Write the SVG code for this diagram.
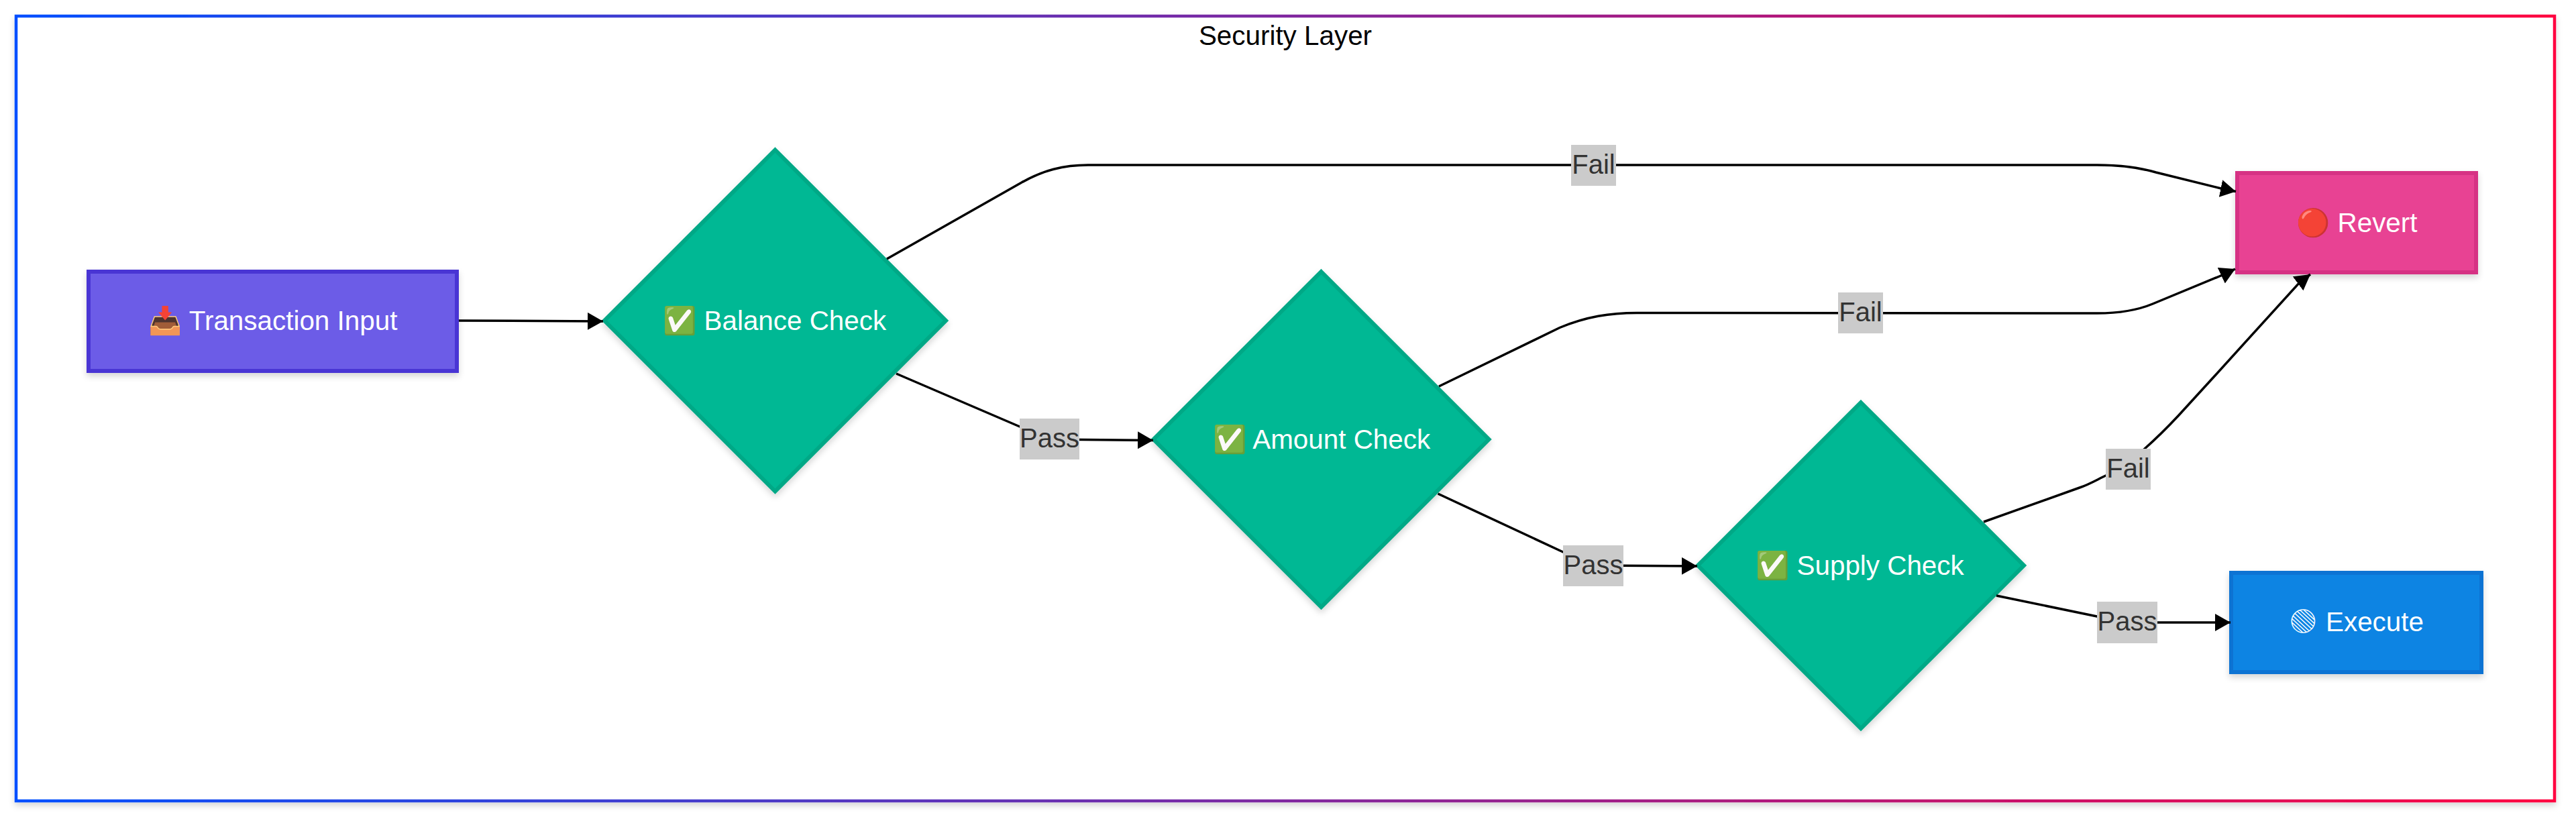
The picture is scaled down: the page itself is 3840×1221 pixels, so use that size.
<svg xmlns="http://www.w3.org/2000/svg" width="3840" height="1221" viewBox="0 0 3840 1221">
<style>
text{font-family:"Liberation Sans","Noto Color Emoji",sans-serif;font-size:40.400px}
.c{text-anchor:middle}
.n text{fill:#fff}
.n rect,.n polygon{stroke-width:6;filter:url(#sh)}
.g polygon{fill:#00b894;stroke:#00a886}
.e{fill:none;stroke:#000;stroke-width:3.5}
.a{marker-end:url(#arr)}
.l rect{fill:#cbcbcb}
.l text{fill:#333;text-anchor:middle;font-size:40px}
</style>
<defs>
<linearGradient id="fr" gradientUnits="userSpaceOnUse" x1="24" y1="0" x2="3808" y2="0"><stop offset="0" stop-color="#0050ff"/><stop offset="1" stop-color="#ff0040"/></linearGradient>
<filter id="sh" x="-10%" y="-10%" width="120%" height="125%"><feDropShadow dx="0" dy="5" stdDeviation="5" flood-color="#000" flood-opacity=".16"/></filter>
<marker id="arr" markerUnits="userSpaceOnUse" markerWidth="25" markerHeight="28" refX="23" refY="13" orient="auto"><path d="M0,0L23,13L0,26z" fill="#000"/></marker>
</defs>
<rect width="3840" height="1221" fill="#fff"/>
<g id="frame"><rect x="24" y="24" width="3784" height="1170" fill="#fff" stroke="url(#fr)" stroke-width="4.500" filter="url(#sh)"/>
<text class="c" x="1916" y="67" fill="#000">Security Layer</text></g>
<g id="input" class="n"><rect x="132" y="405" width="549" height="148" fill="#6c5ce7" stroke="#4834d4"/><text x="221" y="492">📥 Transaction Input</text></g>
<g id="balance" class="n g"><polygon points="1155.500,223.500 1410,478 1155.500,732.500 901,478"/><text x="988" y="492">✅ Balance Check</text></g>
<g id="amount" class="n g"><polygon points="1969.500,405 2219.500,655 1969.500,905 1719.500,655"/><text x="1808" y="669">✅ Amount Check</text></g>
<g id="supply" class="n g"><polygon points="2774,600 3017,843 2774,1086 2531,843"/><text x="2617" y="857">✅ Supply Check</text></g>
<g id="revert" class="n"><rect x="3335" y="258" width="356" height="148" fill="#e84393" stroke="#d63384"/><text x="3423" y="346">🔴 Revert</text></g>
<g id="execute" class="n"><rect x="3326" y="854" width="373" height="148" fill="#0984e3" stroke="#0873d3"/><text x="3411" y="937.500" style="font-size:35px">🟢︎</text><text x="3467" y="941">Execute</text></g>
<g id="connectors">
<path class="e a" d="M684,478L899,479"/>
<path class="e a" d="M1322,386L1523,272C1555,254 1585,246 1622,246L3126,246C3160,246 3190,250 3214,257L3311,281L3333,285.500"/>
<path class="e a" d="M1336,557L1520,636L1565,655L1719,656.500"/>
<path class="e a" d="M2145,576L2325,488.500C2365,472 2400,466.500 2440,466.500L3126,467C3155,467 3185,463 3209,453L3313,410L3332,401"/>
<path class="e a" d="M2143.500,736L2330,823L2375,843L2530,844"/>
<path class="e a" d="M2957,778L3100,727C3115,722 3128,714 3139,709C3165,697 3180,685 3197,669C3215,653 3233,635 3247,620L3300,562L3428,421L3444,409"/>
<path class="e a" d="M2976,888L3126,919C3150,924 3160,928 3171,928L3325,928"/>
</g>
<g id="labels" class="l">
<g><rect x="2342" y="216" width="67" height="61"/><text x="2375.500" y="259">Fail</text></g>
<g><rect x="1520" y="624" width="89" height="61"/><text x="1564.500" y="667">Pass</text></g>
<g><rect x="2740" y="436" width="67" height="61"/><text x="2773.500" y="479">Fail</text></g>
<g><rect x="2330" y="813" width="90" height="61"/><text x="2375" y="856">Pass</text></g>
<g><rect x="3139" y="669" width="67" height="61"/><text x="3172.500" y="712">Fail</text></g>
<g><rect x="3126" y="897" width="90" height="62"/><text x="3171" y="940">Pass</text></g>
</g>
</svg>
